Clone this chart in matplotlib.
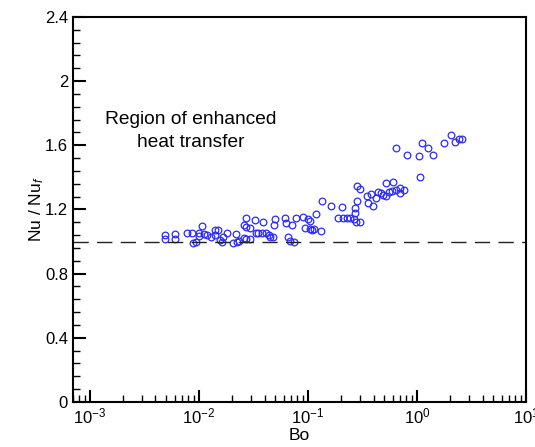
import matplotlib
matplotlib.use("Agg")
import matplotlib.pyplot as plt
from matplotlib.ticker import LogLocator, MultipleLocator, FuncFormatter, NullFormatter

plt.rcParams['font.family'] = ['Liberation Sans', 'DejaVu Sans']
plt.rcParams['mathtext.fontset'] = 'custom'
plt.rcParams['mathtext.rm'] = 'Liberation Sans'
plt.rcParams['mathtext.it'] = 'Liberation Sans:italic'

# Data: Bond number vs Nu/Nu_f
bo = [0.00492, 0.0049, 0.00607, 0.00607, 0.00771, 0.00857, 0.00881, 0.00933, 0.00994, 0.0100,
      0.01066, 0.01111, 0.01177, 0.0128, 0.01393, 0.01494, 0.01413, 0.01549, 0.01626, 0.0166,
      0.01807, 0.0205, 0.0217, 0.0222, 0.0231, 0.0257, 0.0268, 0.0272, 0.0292, 0.0259,
      0.0268, 0.0292, 0.0324, 0.0331, 0.0351, 0.0382, 0.0387, 0.0409, 0.0439, 0.0452,
      0.0477, 0.0484, 0.0498, 0.0621, 0.0624, 0.0656, 0.0679, 0.0744, 0.0719, 0.0783,
      0.0900, 0.0942, 0.100, 0.1037, 0.1052, 0.1081, 0.1128, 0.1177, 0.1327, 0.1344,
      0.1625, 0.190, 0.2038, 0.2095, 0.2265, 0.2414, 0.2626, 0.270, 0.270, 0.274,
      0.298, 0.284, 0.2815, 0.300, 0.348, 0.353, 0.382, 0.395, 0.418, 0.439,
      0.471, 0.488, 0.524, 0.524, 0.553, 0.602, 0.595, 0.647, 0.694, 0.694,
      0.755, 0.647, 0.810, 1.043, 1.059, 1.104, 1.254, 1.402, 1.758, 2.038,
      2.232, 2.413, 2.609]
nu_ratio = [1.041, 1.019, 1.050, 1.016, 1.055, 1.055, 0.989, 0.998, 1.054, 1.032,
            1.094, 1.046, 1.044, 1.026, 1.075, 1.075, 1.041, 1.010, 0.998, 1.027,
            1.054, 0.994, 1.047, 0.999, 1.006, 1.103, 1.145, 1.093, 1.083, 1.024,
            1.016, 1.014, 1.135, 1.055, 1.055, 1.055, 1.124, 1.055, 1.041, 1.031,
            1.027, 1.103, 1.139, 1.145, 1.114, 1.027, 1.004, 0.998, 1.103, 1.145,
            1.155, 1.083, 1.139, 1.128, 1.080, 1.072, 1.077, 1.172, 1.064, 1.255,
            1.222, 1.144, 1.214, 1.144, 1.144, 1.144, 1.139, 1.208, 1.180, 1.124,
            1.124, 1.253, 1.347, 1.330, 1.284, 1.243, 1.297, 1.222, 1.272, 1.311,
            1.305, 1.289, 1.363, 1.284, 1.311, 1.373, 1.317, 1.322, 1.332, 1.301,
            1.322, 1.582, 1.542, 1.534, 1.401, 1.613, 1.582, 1.542, 1.613, 1.663,
            1.621, 1.640, 1.642]

ref_level = 1.0
x_limits = (7e-4, 10)
y_limits = (0, 2.4)

fig = plt.figure(figsize=(5.35, 4.47), dpi=100)
ax = fig.add_axes([0.1364, 0.1007, 0.8466, 0.8613])

ax.plot(bo, nu_ratio, linestyle='none', marker='o', markersize=4.8,
        markerfacecolor='none', markeredgecolor='#2a2aff', markeredgewidth=0.9)
ax.axhline(ref_level, color='#222222', linewidth=1.0, dashes=(11, 6))

ax.set_xscale('log')
ax.set_xlim(*x_limits)
ax.set_ylim(*y_limits)

ax.xaxis.set_major_locator(LogLocator(base=10, numticks=10))
ax.xaxis.set_minor_locator(LogLocator(base=10, subs=range(2, 10), numticks=20))
ax.xaxis.set_minor_formatter(NullFormatter())
ax.yaxis.set_major_locator(MultipleLocator(0.4))
ax.yaxis.set_minor_locator(MultipleLocator(0.08))
ax.yaxis.set_major_formatter(FuncFormatter(lambda v, p: f"{v:g}"))

ax.tick_params(which='both', direction='in', top=False, right=False, labelsize=12)
ax.tick_params(which='major', length=9, width=1.5)
ax.tick_params(which='minor', length=5, width=1.0)
for s in ax.spines.values():
    s.set_linewidth(1.5)

ax.set_xlabel('Bo', fontsize=12.5, labelpad=1)
ax.set_ylabel('Nu / Nu$_f$', fontsize=12.5, labelpad=-1)

ax.text(0.0084, 1.69, 'Region of enhanced\nheat transfer', fontsize=13.8,
        ha='center', va='center', linespacing=1.45)

fig.savefig('out.png', dpi=100)
